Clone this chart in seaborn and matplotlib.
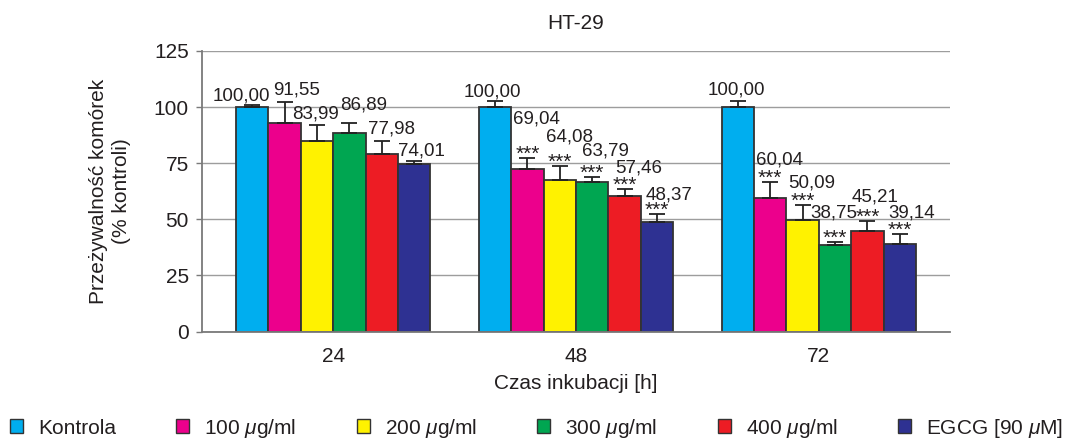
import numpy as np
import pandas as pd
import matplotlib
matplotlib.use("Agg")
import matplotlib.pyplot as plt
from matplotlib.patches import Patch
import seaborn as sns

# ---------------- data ----------------
times = ["24", "48", "72"]
groups = ["Kontrola", "100 $\\mu$g/ml", "200 $\\mu$g/ml", "300 $\\mu$g/ml",
          "400 $\\mu$g/ml", "EGCG [90 $\\mu$M]"]

kontrola = [100.0, 100.0, 100.0]
c100 = [93.1, 72.3, 59.4]
c200 = [85.1, 67.3, 49.7]
c300 = [88.4, 66.8, 38.6]
c400 = [79.2, 60.4, 44.8]
egcg = [74.6, 48.7, 39.0]

err_kontrola = [1.0, 2.5, 2.9]
err_c100 = [9.0, 5.2, 7.1]
err_c200 = [7.0, 6.5, 6.7]
err_c300 = [4.7, 2.2, 1.5]
err_c400 = [5.8, 3.0, 4.5]
err_egcg = [1.4, 3.6, 4.4]

labels_kontrola = ["100,00", "100,00", "100,00"]
labels_c100 = ["91,55", "69,04", "60,04"]
labels_c200 = ["83,99", "64,08", "50,09"]
labels_c300 = ["86,89", "63,79", "38,75"]
labels_c400 = ["77,98", "57,46", "45,21"]
labels_egcg = ["74,01", "48,37", "39,14"]

stars_kontrola = ["", "", ""]
stars_treated = ["", "***", "***"]

values = [kontrola, c100, c200, c300, c400, egcg]
errors = [err_kontrola, err_c100, err_c200, err_c300, err_c400, err_egcg]
labels = [labels_kontrola, labels_c100, labels_c200, labels_c300, labels_c400, labels_egcg]
stars = [stars_kontrola] + [stars_treated] * 5

# ---------------- layout / style ----------------
colors = ["#00AEEF", "#EC008C", "#FFF200", "#00A651", "#ED1C24", "#2E3192"]
# label nudges (pixels) relative to bar centre / error-bar top, per series & time
label_nudge = [
    [(-11, 4), (-3, 5), (-2, 6)],
    [(12, 8), (9, 34), (9, 18)],
    [(-1, 6), (10, 24), (9, 17)],
    [(14, 13), (13, 21), (-1, 24)],
    [(10, 7), (14, 17), (8, 19)],
    [(7, 5), (12, 15), (12, 17)],
]

sns.set_style("white")
plt.rcParams["font.family"] = ["Liberation Sans", "DejaVu Sans"]
plt.rcParams["mathtext.fontset"] = "custom"
plt.rcParams["mathtext.rm"] = "Liberation Sans"
plt.rcParams["mathtext.it"] = "Liberation Sans:italic"
plt.rcParams["mathtext.bf"] = "Liberation Sans:bold"
text_color = "#231f20"
fs = 15
fs_val = 13.5
fs_star = 15

rows = []
for g, vals in zip(groups, values):
    for t, v in zip(times, vals):
        rows.append({"time": t, "group": g, "value": v})
df = pd.DataFrame(rows)

W, H = 1081, 438
fig = plt.figure(figsize=(W / 100, H / 100), dpi=100)
ax = fig.add_axes([202 / W, 1 - 331.5 / H, (950 - 202) / W, (331.5 - 51) / H])

sns.barplot(data=df, x="time", y="value", hue="group", order=times,
            hue_order=groups, palette=colors, saturation=1, errorbar=None,
            width=0.8, edgecolor="#333333", linewidth=1.3, legend=False, ax=ax)

bar_containers = list(ax.containers)
for i, cont in enumerate(bar_containers):
    for j, bar in enumerate(cont.patches):
        x = bar.get_x() + bar.get_width() / 2
        h = bar.get_height()
        e = errors[i][j]
        ax.errorbar(x, h, yerr=[[0], [e]], fmt="none", ecolor="#222222",
                    elinewidth=1.3, capsize=6, capthick=1.3, zorder=3)
        dx, dy = label_nudge[i][j]
        ax.annotate(labels[i][j], (x, h + e), xytext=(dx, dy),
                    textcoords="offset pixels", ha="center", va="baseline",
                    fontsize=fs_val, color=text_color, zorder=5)
        if stars[i][j]:
            ax.annotate(stars[i][j], (x, h + e), xytext=(0, -2),
                        textcoords="offset pixels", ha="center", va="baseline",
                        fontsize=fs_star, color=text_color, zorder=5)

ax.set_ylim(0, 125)
ax.set_yticks([0, 25, 50, 75, 100, 125])
ax.yaxis.grid(True, color="#9d9d9d", linewidth=1.0)
ax.xaxis.grid(False)
ax.set_axisbelow(True)
for s in ["top", "right"]:
    ax.spines[s].set_visible(False)
for s in ["left", "bottom"]:
    ax.spines[s].set_color("#7a7a7a")
    ax.spines[s].set_linewidth(1.3)

ax.tick_params(axis="x", length=0, pad=11, labelsize=fs, labelcolor=text_color)
ax.tick_params(axis="y", length=4.5, width=1.0, color="#7a7a7a", pad=5,
               labelsize=fs, labelcolor=text_color, left=True)

ax.set_xlabel("Czas inkubacji [h]", fontsize=fs, color=text_color, labelpad=6)
ax.set_ylabel("Przeżywalność komórek\n(% kontroli)", fontsize=fs,
              color=text_color, labelpad=16, linespacing=1.3)
ax.set_title("HT-29", fontsize=fs, color=text_color, pad=16)

handles = [Patch(facecolor=c, edgecolor="#333333", linewidth=1.0) for c in colors]
fig.legend(handles, groups, loc="center left", bbox_to_anchor=(10 / W, 1 - 428 / H),
           ncol=6, frameon=False, handlelength=0.62, handleheight=0.62,
           handletextpad=0.72, columnspacing=2.9, borderpad=0, borderaxespad=0,
           fontsize=fs, labelcolor=text_color)

fig.savefig("out.png", dpi=100)
